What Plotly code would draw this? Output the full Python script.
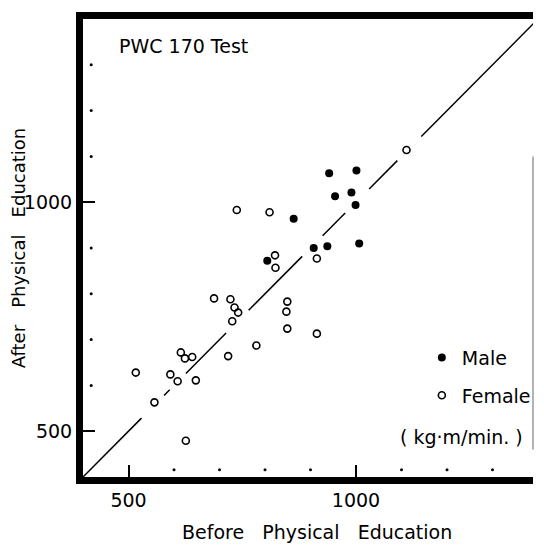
import plotly.graph_objects as go

# PWC170 values (kg·m/min), before vs after physical education
male_before = [941, 1001, 954, 990, 999, 863, 907, 937, 1007, 805]
male_after = [1063, 1069, 1013, 1021, 994, 964, 900, 904, 910, 872]

female_before = [1111, 738, 810, 822, 823, 914, 688, 724, 733, 741, 728,
                 849, 847, 849, 914, 781, 719, 615, 624, 640, 516,
                 592, 608, 648, 557, 626]
female_after = [1114, 983, 978, 884, 857, 877, 790, 788, 770, 759, 740,
                783, 761, 724, 713, 687, 664, 672, 659, 662, 628,
                624, 609, 611, 563, 479]

identity = [400, 1400]          # before == after reference line
major_ticks = [500, 1000]
minor_ticks = [600, 700, 800, 900, 1100, 1200, 1300]

FONT = "DejaVu Sans"
NB = "\u00a0"

fig = go.Figure()

# identity line, broken where points sit on it
fig.add_trace(go.Scatter(
    x=identity, y=identity, mode="lines",
    line=dict(color="black", width=1.5,
              dash="83px,32px,8px,23px,57px,32px,76px,29px,32px,34px,40px,34px,170px"),
    showlegend=False, hoverinfo="skip",
))

fig.add_trace(go.Scatter(
    x=male_before, y=male_after, mode="markers", name="Male",
    marker=dict(symbol="circle", size=8, color="black"),
    legendgroup="m",
))

fig.add_trace(go.Scatter(
    x=female_before, y=female_after, mode="markers", name="Female",
    marker=dict(symbol="circle-open", size=7, color="black", line=dict(width=1.6)),
    legendgroup="f",
))

# minor tick dots, drawn a little inside the frame
fig.add_trace(go.Scatter(
    x=minor_ticks, y=[416] * len(minor_ticks), mode="markers",
    marker=dict(size=3, color="black"), showlegend=False, hoverinfo="skip",
))
fig.add_trace(go.Scatter(
    x=[418] * len(minor_ticks), y=minor_ticks, mode="markers",
    marker=dict(size=3, color="black"), showlegend=False, hoverinfo="skip",
))

axis_common = dict(
    tickvals=major_ticks, ticks="inside", ticklen=12,
    tickwidth=1.5, tickcolor="black", showline=True, linewidth=7,
    linecolor="black", showgrid=False, zeroline=False, automargin=False,
    tickfont=dict(family=FONT, size=19, color="black"),
)

fig.update_layout(
    width=528, height=537,
    margin=dict(l=75, r=0, t=11, b=68),
    paper_bgcolor="white", plot_bgcolor="white",
    font=dict(family=FONT, color="black"),
    xaxis=dict(**axis_common, mirror=True, range=[400, 1389]),
    yaxis=dict(
        **axis_common, range=[400, 1400],
        title=dict(text=f"After{NB*3}Physical{NB*3}Education",
                   font=dict(family=FONT, size=18)),
    ),
    legend=dict(
        x=0.753, y=0.302, xanchor="left", yanchor="top",
        font=dict(family=FONT, size=19), bgcolor="rgba(0,0,0,0)",
        tracegroupgap=10, traceorder="grouped",
    ),
    annotations=[
        dict(text=f"Before{NB*3}Physical{NB*3}Education", xref="paper", yref="paper",
             x=0.519, y=-0.12, xanchor="center", yanchor="middle", showarrow=False,
             font=dict(family=FONT, size=19)),
        dict(text="PWC 170 Test", xref="paper", yref="paper", x=0.075, y=0.94,
             xanchor="left", yanchor="middle", showarrow=False,
             font=dict(family=FONT, size=19)),
        dict(text=f"({NB}kg·m/min.{NB})", xref="paper", yref="paper", x=0.841, y=0.088,
             xanchor="center", yanchor="middle", showarrow=False,
             font=dict(family=FONT, size=19)),
    ],
    shapes=[
        dict(type="line", xref="paper", yref="paper", x0=1, x1=1, y0=0.06, y1=0.70,
             line=dict(color="#999999", width=1.5)),
    ],
)

fig.write_html("out.html")
